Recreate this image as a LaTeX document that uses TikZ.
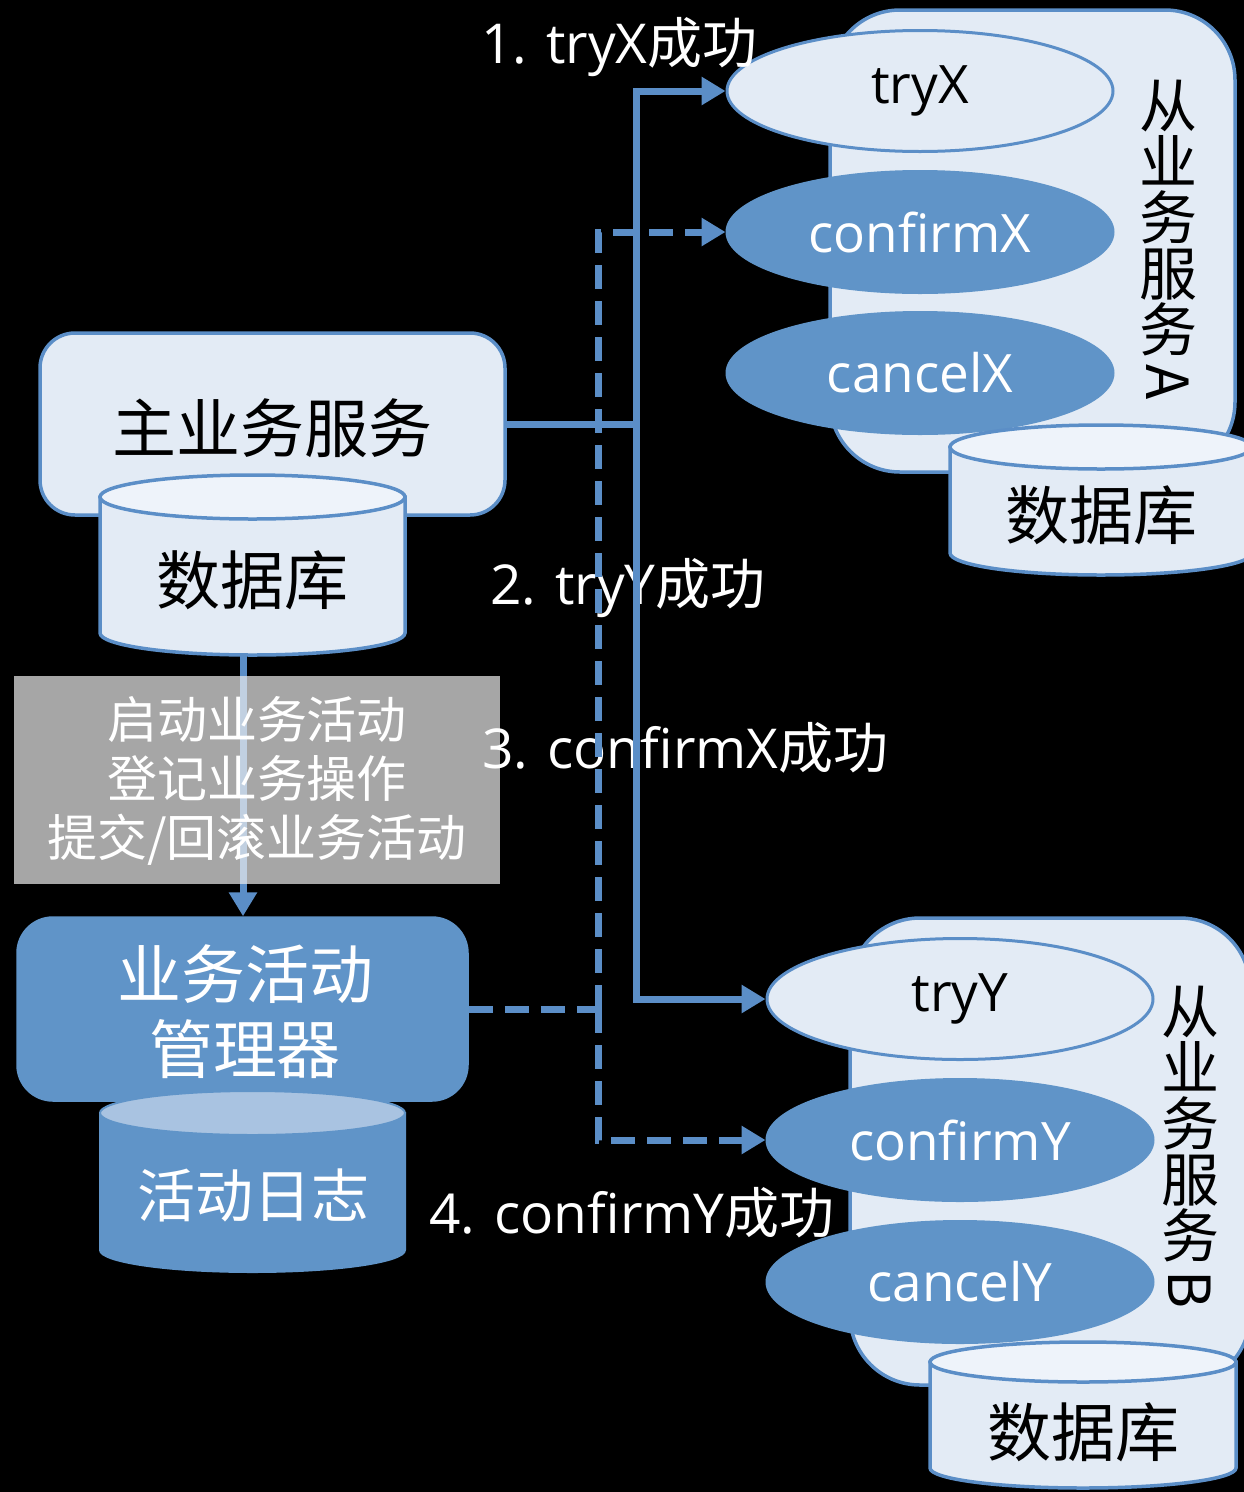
\documentclass[tikz,border=0pt]{standalone}
\usepackage{fontspec}
\usepackage{graphicx}
\setmainfont{Open Sans}
\newfontfamily\cjk{Noto Sans CJK SC}
\usetikzlibrary{shapes.geometric,arrows.meta}
\definecolor{lfill}{HTML}{E3EBF5}
\definecolor{ltop}{HTML}{EEF3FA}
\definecolor{bline}{HTML}{5B8EC7}
\definecolor{mblue}{HTML}{6094C8}
\definecolor{ltopb}{HTML}{A9C3E1}
\definecolor{gbox}{HTML}{EDEDED}
\begin{document}
\begin{tikzpicture}[x=1pt,y=1pt,
  box/.style={draw=bline,line width=3.5pt,fill=lfill,rounded corners=35pt,inner sep=0pt},
  ell/.style={ellipse,draw=bline,line width=3pt,minimum width=386pt,minimum height=121pt,inner sep=0pt,font=\fontsize{53}{60}\selectfont},
  ellL/.style={ell,fill=lfill,text=black},
  ellD/.style={ell,fill=mblue,draw=mblue,text=white},
  conn/.style={draw=bline,line width=7pt},
  tip/.style={-{Triangle[length=24pt,width=27pt]}},
  dconn/.style={conn,dash pattern=on 24pt off 12pt},
  lbl/.style={text=white,anchor=west,inner sep=0pt,font=\fontsize{55}{60}\selectfont},
  big/.style={font=\cjk\fontsize{64}{75}\selectfont,inner sep=0pt,align=center},
  vert/.style={font=\cjk\fontsize{58}{56}\selectfont,inner sep=0pt,align=center},
  cylL/.style={fill=lfill,draw=bline,line width=3.5pt},
  cylT/.style={fill=ltop,draw=bline,line width=3.5pt},
]
\fill[black] (0,0) rectangle (1244,-1492);
\useasboundingbox (0,0) rectangle (1244,-1492);

% service A
\node[box,rounded corners=70pt,minimum width=405pt,minimum height=462pt] (svcA) at (1032.5,-241) {};
\node[vert] (labA) at (1168,-244) {从\\业\\务\\服\\务\\\raisebox{0.75em}{\rotatebox{-90}{A}}};
\node[ellL] (tryX) at (920,-91) {tryX};
\node[ellD] (confirmX) at (920,-232) {confirmX};
\node[ellD] (cancelX) at (920,-373) {cancelX};
\filldraw[cylL] (950,-447) -- (950,-553) arc[start angle=180,end angle=360,x radius=151pt,y radius=22pt] -- (1252,-447) -- cycle;
\filldraw[cylT] (1101,-447) ellipse[x radius=151pt,y radius=22pt];
\node[big] (dbA) at (1101,-515) {数据库};

% service B
\node[box,rounded corners=70pt,minimum width=400pt,minimum height=467pt] (svcB) at (1050,-1151.5) {};
\node[vert] (labB) at (1190,-1150) {从\\业\\务\\服\\务\\\raisebox{0.75em}{\rotatebox{-90}{B}}};
\node[ellL] (tryY) at (960,-999) {tryY};
\node[ellD] (confirmY) at (960,-1140) {confirmY};
\node[ellD] (cancelY) at (960,-1282) {cancelY};
\filldraw[cylL] (930,-1362) -- (930,-1468) arc[start angle=180,end angle=360,x radius=153pt,y radius=20pt] -- (1236,-1362) -- cycle;
\filldraw[cylT] (1083,-1362) ellipse[x radius=153pt,y radius=20pt];
\node[big] (dbB) at (1083,-1432) {数据库};

% main service
\node[box,minimum width=465pt,minimum height=182pt] (mainsvc) at (272.5,-424) {};
\node[big] (mainlab) at (272.5,-428) {主业务服务};
\filldraw[cylL] (100,-497) -- (100,-633) arc[start angle=180,end angle=360,x radius=152.5pt,y radius=22pt] -- (405,-497) -- cycle;
\filldraw[cylT] (252.5,-497) ellipse[x radius=152.5pt,y radius=22pt];
\node[big] (mdb) at (252.5,-580) {数据库};
\coordinate (mdbb) at (243,-656);

% manager
\node[box,fill=mblue,draw=mblue,minimum width=449pt,minimum height=182pt] (mgr) at (242.5,-1009) {};
\node[big,text=white] (mgrlab) at (245,-1012) {业务活动\\管理器};
\filldraw[fill=mblue,draw=mblue,line width=2pt] (100,-1113) -- (100,-1250) arc[start angle=180,end angle=360,x radius=152.5pt,y radius=22pt] -- (405,-1113) -- cycle;
\filldraw[fill=ltopb,draw=mblue,line width=2pt] (252.5,-1113) ellipse[x radius=152.5pt,y radius=22pt];
\node[big,text=white,font=\cjk\fontsize{58}{60}\selectfont] (log) at (253,-1195) {活动日志};

% arrow main db -> manager, under grey box
\draw[conn,tip] (mdbb) -- (mgr.north -| mdbb);
\node[fill=gbox,fill opacity=0.7,text opacity=1,minimum width=486pt,minimum height=208pt,inner sep=0pt] (gray) at (257,-780) {};
\node[font=\cjk\fontsize{50}{59}\selectfont,text=white,align=center,inner sep=0pt] (graytxt) at (257,-781) {启动业务活动\\登记业务操作\\提交/回滚业务活动};

% labels
\node[lbl] (l1) at (481,-47) {1. tryX{\cjk 成功}};
\node[lbl] (l2) at (490,-588) {2. tryY{\cjk 成功}};
\node[lbl] (l3) at (482,-748) {3. confirmX{\cjk 成功}};
\node[lbl] (l4) at (429,-1213) {4. confirmY{\cjk 成功}};

% connectors
\coordinate (jA) at (636,-424);
\draw[conn] (mainsvc.east) -- (jA);
\draw[conn,tip] (jA) |- (tryX.west);
\draw[conn,tip] (jA) |- (tryY.west);
\coordinate (dj) at (598,-1009);
\draw[dconn] (mgr.east) -- (dj);
\draw[dconn,tip] (dj) |- (confirmX.west);
\draw[dconn,tip] (dj) |- (confirmY.west);
\end{tikzpicture}
\end{document}
